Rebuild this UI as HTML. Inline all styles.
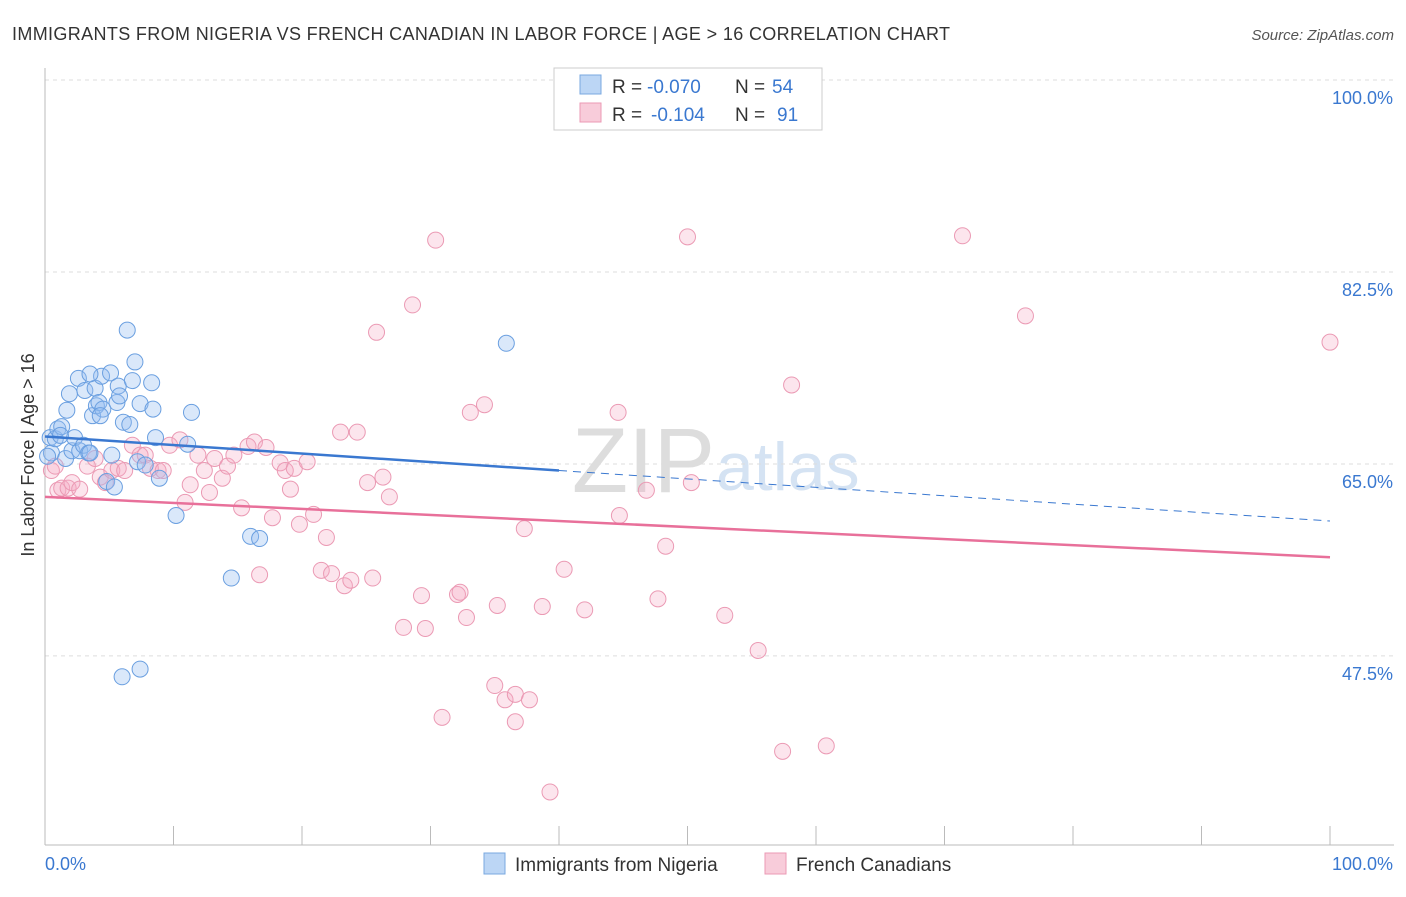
<!DOCTYPE html>
<html><head><meta charset="utf-8"><style>
body{margin:0;background:#fff;font-family:"Liberation Sans",sans-serif;}
svg text{font-family:"Liberation Sans",sans-serif;}
</style></head><body>
<svg id="chart" width="1406" height="892">
<text x="12" y="40" font-size="18" fill="#333" textLength="938">IMMIGRANTS FROM NIGERIA VS FRENCH CANADIAN IN LABOR FORCE | AGE &gt; 16 CORRELATION CHART</text>
<text x="1394" y="40" font-size="15" fill="#555" text-anchor="end" font-style="italic">Source: ZipAtlas.com</text>
<text x="715" y="492" font-size="92" fill="#ddd" text-anchor="end" font-family="Liberation Serif">ZIP</text>
<text x="716" y="490" font-size="68" fill="#d5e3f3">atlas</text>
<g id="grid"></g>
<g id="axes"></g>
<g id="marks"></g>
<text transform="translate(34,455) rotate(-90)" font-size="18" fill="#333" text-anchor="middle">In Labor Force | Age &gt; 16</text>
<g>
<rect x="554" y="68" width="268" height="62" fill="#fff" stroke="#ccc"/>
<rect x="580" y="75" width="21" height="19" fill="#bcd6f5" stroke="#7aa8e0"/>
<rect x="580" y="103" width="21" height="19" fill="#f8ccda" stroke="#eb9ab4"/>
<text x="612" y="93" font-size="19" fill="#333">R =</text>
<text x="647" y="93" font-size="19" fill="#3a78d0">-0.070</text>
<text x="735" y="93" font-size="19" fill="#333">N =</text>
<text x="772" y="93" font-size="19" fill="#3a78d0">54</text>
<text x="612" y="121" font-size="19" fill="#333">R =</text>
<text x="651" y="121" font-size="19" fill="#3a78d0">-0.104</text>
<text x="735" y="121" font-size="19" fill="#333">N =</text>
<text x="777" y="121" font-size="19" fill="#3a78d0">91</text>
</g>
<g>
<rect x="484" y="853" width="21" height="21" fill="#bcd6f5" stroke="#7aa8e0"/>
<text x="515" y="871" font-size="19" fill="#333">Immigrants from Nigeria</text>
<rect x="765" y="853" width="21" height="21" fill="#f8ccda" stroke="#eb9ab4"/>
<text x="796" y="871" font-size="19" fill="#333">French Canadians</text>
</g>
</svg>
<script>
const yTicks=[100,82.5,65,47.5];
const yTickLabels=["100.0%","82.5%","65.0%","47.5%"];
const xTickLabels=["0.0%","100.0%"];
const blueX=[0.4,0.5,0.8,1.0,1.3,1.6,1.7,1.9,2.1,2.3,2.6,2.7,3.0,3.1,3.4,3.5,3.7,3.9,4.0,4.2,4.4,4.5,4.8,5.1,5.2,5.4,5.6,5.7,5.8,6.1,6.4,6.6,6.8,7.0,7.2,7.4,7.8,8.3,8.4,8.6,8.9,10.2,11.1,11.4,14.5,16.0,16.7,6.0,7.4,35.9,0.2,1.2,4.3,3.5];
const blueY=[67.4,66.0,67.3,68.2,68.4,65.5,69.9,71.4,66.2,67.4,72.8,66.2,66.7,71.7,66.0,66.0,69.4,71.9,70.3,70.6,73.0,70.0,63.4,73.3,65.8,62.9,70.6,72.1,71.2,68.8,77.2,68.6,72.6,74.3,65.2,70.5,64.9,72.4,70.0,67.4,63.7,60.3,66.8,69.7,54.6,58.4,58.2,45.6,46.3,76.0,65.7,67.6,69.4,73.2];
const pinkX=[0.5,0.8,1.0,1.3,1.8,2.1,2.7,3.3,3.9,4.3,4.7,5.2,5.7,6.2,6.8,7.4,7.8,8.2,8.8,9.2,9.7,10.5,10.9,11.3,11.9,12.4,12.8,13.2,13.8,14.2,14.7,15.3,15.8,16.3,16.7,17.2,17.7,18.3,18.7,19.1,19.4,19.8,20.4,20.9,21.5,21.9,22.3,23.0,23.3,23.8,24.3,25.1,25.5,25.8,26.3,26.8,27.9,28.6,29.3,29.6,30.4,30.9,32.1,32.3,32.8,33.1,34.2,35.0,35.2,35.8,36.6,36.6,37.3,37.7,38.7,39.3,40.4,42.0,44.6,44.7,46.8,47.7,48.3,50.0,50.3,52.9,55.5,57.4,58.1,60.8,71.4,76.3,100.0];
const pinkY=[64.4,64.8,62.6,62.8,62.8,63.3,62.7,64.8,65.5,63.8,63.3,64.4,64.6,64.4,66.7,65.8,65.8,64.6,64.4,64.4,66.7,67.2,61.5,63.1,65.8,64.4,62.4,65.5,63.7,64.8,65.8,61.0,66.6,67.0,54.9,66.5,60.1,65.1,64.4,62.7,64.6,59.5,65.2,60.4,55.3,58.3,55.0,67.9,53.9,54.4,67.9,63.3,54.6,77.0,63.8,62.0,50.1,79.5,53.0,50.0,85.4,41.9,53.1,53.3,51.0,69.7,70.4,44.8,52.1,43.5,44.0,41.5,59.1,43.5,52.0,35.1,55.4,51.7,69.7,60.3,62.6,52.7,57.5,85.7,63.3,51.2,48.0,38.8,72.2,39.3,85.8,78.5,76.1];
const trendBlue=[67.5,64.4,59.8];
const trendPink=[62.0,56.5];
const X0=45,X1=1330,YT=80,PPU=10.97;
const xs=v=>X0+(X1-X0)*v/100, ys=v=>YT+(100-v)*PPU;
const NS="http://www.w3.org/2000/svg";
function mk(tag,attrs,parent){const e=document.createElementNS(NS,tag);for(const k in attrs)e.setAttribute(k,attrs[k]);document.getElementById(parent).appendChild(e);return e;}
yTicks.forEach((t,i)=>{
 const g=mk('line',{x1:45,x2:1394,y1:ys(t),y2:ys(t),stroke:'#ddd','stroke-dasharray':'4,4'},'grid');
 
 
 const l=mk('text',{x:1393,y:ys(t)+24,'font-size':18,fill:'#3a78d0','text-anchor':'end'},'axes');
 l.textContent=yTickLabels[i];
 
 
});
let ax=mk('line',{x1:45,x2:45,y1:68,y2:845,stroke:'#bbb'},'axes');


ax=mk('line',{x1:45,x2:1394,y1:845,y2:845,stroke:'#bbb'},'axes');


for(let i=1;i<=10;i++){const t=mk('line',{x1:xs(i*10),x2:xs(i*10),y1:826,y2:845,stroke:'#bbb'},'axes');
 
 }
[[xs(0),'start'],[1393,'end']].forEach((p,i)=>{const l=mk('text',{x:p[0],y:870,'font-size':18,fill:'#3a78d0','text-anchor':p[1]},'axes');l.textContent=xTickLabels[i];
 
 });
pinkX.forEach((x,i)=>{const c=mk('circle',{cx:xs(x),cy:ys(pinkY[i]),r:8,fill:'rgba(245,170,195,0.3)',stroke:'#eb9ab4','stroke-width':1},'marks');
 
 });
blueX.forEach((x,i)=>{const c=mk('circle',{cx:xs(x),cy:ys(blueY[i]),r:8,fill:'rgba(150,190,240,0.35)',stroke:'#6a9fe0','stroke-width':1},'marks');
 
 });
let tl=mk('line',{x1:xs(0),y1:ys(trendBlue[0]),x2:xs(40),y2:ys(trendBlue[1]),stroke:'#3a78d0','stroke-width':2.5},'marks');


tl=mk('line',{x1:xs(40),y1:ys(trendBlue[1]),x2:xs(100),y2:ys(trendBlue[2]),stroke:'#3a78d0','stroke-width':1,'stroke-dasharray':'8,6'},'marks');


tl=mk('line',{x1:xs(0),y1:ys(trendPink[0]),x2:xs(100),y2:ys(trendPink[1]),stroke:'#e8709a','stroke-width':2.5},'marks');


</script>
</body></html>
